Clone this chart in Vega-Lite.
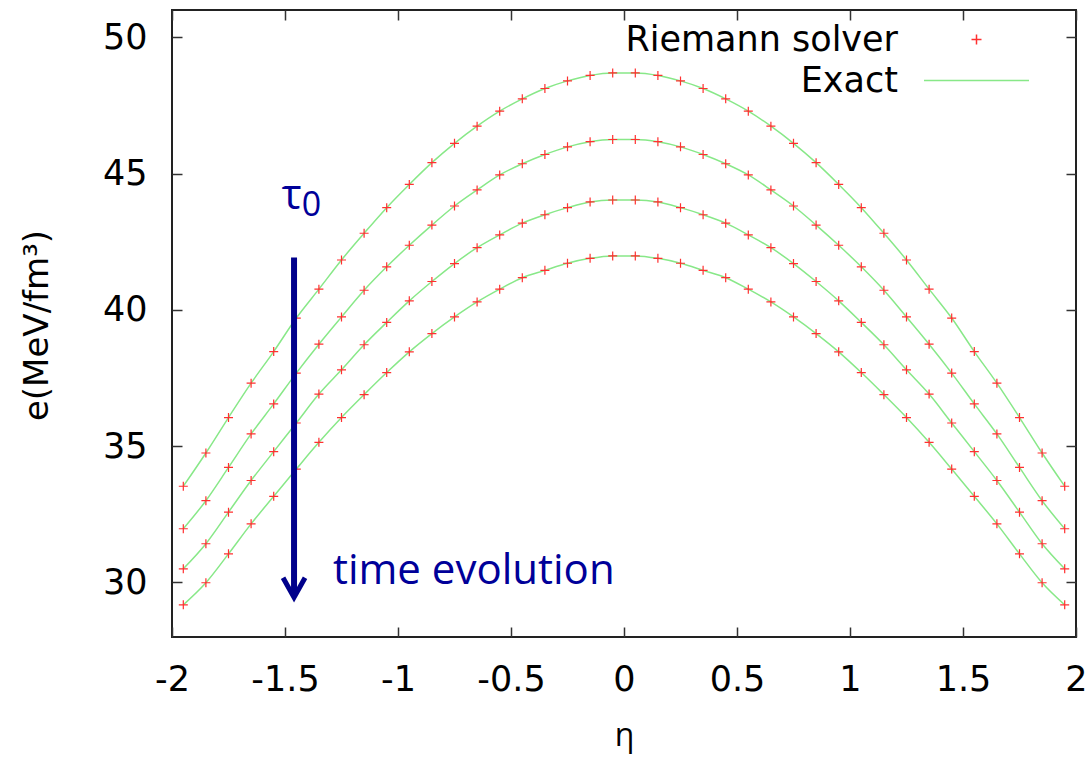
{
  "$schema": "https://vega.github.io/schema/vega-lite/v6.json",
  "width": 904,
  "height": 627,
  "autosize": {"type": "none"},
  "padding": {"left": 172, "top": 10, "right": 15, "bottom": 120},
  "background": "white",
  "config": {
    "view": {"stroke": "#222222", "strokeWidth": 2},
    "axis": {
      "domain": false, "grid": false, "ticks": true, "tickSize": -10,
      "tickColor": "#333333", "tickWidth": 1.5,
      "labelFont": "DejaVu Sans", "labelFontSize": 35, "labelColor": "#000000",
      "labelPadding": 35, "titleColor": "#000000"
    }
  },
  "datasets": {
    "d": [
      {"eta":-1.95,"e":33.53,"c":1},{"eta":-1.85,"e":34.75,"c":1},{"eta":-1.75,"e":36.05,"c":1},{"eta":-1.65,"e":37.31,"c":1},{"eta":-1.55,"e":38.47,"c":1},{"eta":-1.45,"e":39.7,"c":1},{"eta":-1.35,"e":40.76,"c":1},{"eta":-1.25,"e":41.83,"c":1},{"eta":-1.15,"e":42.81,"c":1},{"eta":-1.05,"e":43.75,"c":1},{"eta":-0.95,"e":44.6,"c":1},{"eta":-0.85,"e":45.4,"c":1},{"eta":-0.75,"e":46.11,"c":1},{"eta":-0.65,"e":46.74,"c":1},{"eta":-0.55,"e":47.29,"c":1},{"eta":-0.45,"e":47.74,"c":1},{"eta":-0.35,"e":48.12,"c":1},{"eta":-0.25,"e":48.4,"c":1},{"eta":-0.15,"e":48.6,"c":1},{"eta":-0.05,"e":48.69,"c":1},
      {"eta":0.05,"e":48.69,"c":1},{"eta":0.15,"e":48.6,"c":1},{"eta":0.25,"e":48.4,"c":1},{"eta":0.35,"e":48.12,"c":1},{"eta":0.45,"e":47.74,"c":1},{"eta":0.55,"e":47.29,"c":1},{"eta":0.65,"e":46.74,"c":1},{"eta":0.75,"e":46.11,"c":1},{"eta":0.85,"e":45.4,"c":1},{"eta":0.95,"e":44.6,"c":1},{"eta":1.05,"e":43.75,"c":1},{"eta":1.15,"e":42.81,"c":1},{"eta":1.25,"e":41.83,"c":1},{"eta":1.35,"e":40.76,"c":1},{"eta":1.45,"e":39.7,"c":1},{"eta":1.55,"e":38.47,"c":1},{"eta":1.65,"e":37.31,"c":1},{"eta":1.75,"e":36.05,"c":1},{"eta":1.85,"e":34.75,"c":1},{"eta":1.95,"e":33.53,"c":1},
      {"eta":-1.95,"e":31.97,"c":2},{"eta":-1.85,"e":33.0,"c":2},{"eta":-1.75,"e":34.22,"c":2},{"eta":-1.65,"e":35.45,"c":2},{"eta":-1.55,"e":36.55,"c":2},{"eta":-1.45,"e":37.68,"c":2},{"eta":-1.35,"e":38.74,"c":2},{"eta":-1.25,"e":39.74,"c":2},{"eta":-1.15,"e":40.72,"c":2},{"eta":-1.05,"e":41.58,"c":2},{"eta":-0.95,"e":42.37,"c":2},{"eta":-0.85,"e":43.11,"c":2},{"eta":-0.75,"e":43.81,"c":2},{"eta":-0.65,"e":44.4,"c":2},{"eta":-0.55,"e":44.95,"c":2},{"eta":-0.45,"e":45.36,"c":2},{"eta":-0.35,"e":45.7,"c":2},{"eta":-0.25,"e":45.98,"c":2},{"eta":-0.15,"e":46.17,"c":2},{"eta":-0.05,"e":46.25,"c":2},
      {"eta":0.05,"e":46.25,"c":2},{"eta":0.15,"e":46.17,"c":2},{"eta":0.25,"e":45.98,"c":2},{"eta":0.35,"e":45.7,"c":2},{"eta":0.45,"e":45.36,"c":2},{"eta":0.55,"e":44.95,"c":2},{"eta":0.65,"e":44.4,"c":2},{"eta":0.75,"e":43.81,"c":2},{"eta":0.85,"e":43.11,"c":2},{"eta":0.95,"e":42.37,"c":2},{"eta":1.05,"e":41.58,"c":2},{"eta":1.15,"e":40.72,"c":2},{"eta":1.25,"e":39.74,"c":2},{"eta":1.35,"e":38.74,"c":2},{"eta":1.45,"e":37.68,"c":2},{"eta":1.55,"e":36.55,"c":2},{"eta":1.65,"e":35.45,"c":2},{"eta":1.75,"e":34.22,"c":2},{"eta":1.85,"e":33.0,"c":2},{"eta":1.95,"e":31.97,"c":2},
      {"eta":-1.95,"e":30.5,"c":3},{"eta":-1.85,"e":31.42,"c":3},{"eta":-1.75,"e":32.58,"c":3},{"eta":-1.65,"e":33.74,"c":3},{"eta":-1.55,"e":34.8,"c":3},{"eta":-1.45,"e":35.85,"c":3},{"eta":-1.35,"e":36.91,"c":3},{"eta":-1.25,"e":37.8,"c":3},{"eta":-1.15,"e":38.72,"c":3},{"eta":-1.05,"e":39.54,"c":3},{"eta":-0.95,"e":40.33,"c":3},{"eta":-0.85,"e":41.04,"c":3},{"eta":-0.75,"e":41.7,"c":3},{"eta":-0.65,"e":42.28,"c":3},{"eta":-0.55,"e":42.75,"c":3},{"eta":-0.45,"e":43.18,"c":3},{"eta":-0.35,"e":43.49,"c":3},{"eta":-0.25,"e":43.75,"c":3},{"eta":-0.15,"e":43.96,"c":3},{"eta":-0.05,"e":44.03,"c":3},
      {"eta":0.05,"e":44.03,"c":3},{"eta":0.15,"e":43.96,"c":3},{"eta":0.25,"e":43.75,"c":3},{"eta":0.35,"e":43.49,"c":3},{"eta":0.45,"e":43.18,"c":3},{"eta":0.55,"e":42.75,"c":3},{"eta":0.65,"e":42.28,"c":3},{"eta":0.75,"e":41.7,"c":3},{"eta":0.85,"e":41.04,"c":3},{"eta":0.95,"e":40.33,"c":3},{"eta":1.05,"e":39.54,"c":3},{"eta":1.15,"e":38.72,"c":3},{"eta":1.25,"e":37.8,"c":3},{"eta":1.35,"e":36.91,"c":3},{"eta":1.45,"e":35.85,"c":3},{"eta":1.55,"e":34.8,"c":3},{"eta":1.65,"e":33.74,"c":3},{"eta":1.75,"e":32.58,"c":3},{"eta":1.85,"e":31.42,"c":3},{"eta":1.95,"e":30.5,"c":3},
      {"eta":-1.95,"e":29.18,"c":4},{"eta":-1.85,"e":29.99,"c":4},{"eta":-1.75,"e":31.05,"c":4},{"eta":-1.65,"e":32.15,"c":4},{"eta":-1.55,"e":33.16,"c":4},{"eta":-1.45,"e":34.16,"c":4},{"eta":-1.35,"e":35.14,"c":4},{"eta":-1.25,"e":36.05,"c":4},{"eta":-1.15,"e":36.89,"c":4},{"eta":-1.05,"e":37.7,"c":4},{"eta":-0.95,"e":38.46,"c":4},{"eta":-0.85,"e":39.13,"c":4},{"eta":-0.75,"e":39.74,"c":4},{"eta":-0.65,"e":40.29,"c":4},{"eta":-0.55,"e":40.76,"c":4},{"eta":-0.45,"e":41.18,"c":4},{"eta":-0.35,"e":41.45,"c":4},{"eta":-0.25,"e":41.71,"c":4},{"eta":-0.15,"e":41.89,"c":4},{"eta":-0.05,"e":41.98,"c":4},
      {"eta":0.05,"e":41.98,"c":4},{"eta":0.15,"e":41.89,"c":4},{"eta":0.25,"e":41.71,"c":4},{"eta":0.35,"e":41.45,"c":4},{"eta":0.45,"e":41.18,"c":4},{"eta":0.55,"e":40.76,"c":4},{"eta":0.65,"e":40.29,"c":4},{"eta":0.75,"e":39.74,"c":4},{"eta":0.85,"e":39.13,"c":4},{"eta":0.95,"e":38.46,"c":4},{"eta":1.05,"e":37.7,"c":4},{"eta":1.15,"e":36.89,"c":4},{"eta":1.25,"e":36.05,"c":4},{"eta":1.35,"e":35.14,"c":4},{"eta":1.45,"e":34.16,"c":4},{"eta":1.55,"e":33.16,"c":4},{"eta":1.65,"e":32.15,"c":4},{"eta":1.75,"e":31.05,"c":4},{"eta":1.85,"e":29.99,"c":4},{"eta":1.95,"e":29.18,"c":4}
    ]
  },
  "data": {"name": "d"},
  "layer": [
    {
      "mark": {"type": "line", "interpolate": "monotone", "strokeWidth": 1.5},
      "encoding": {
        "x": {
          "field": "eta", "type": "quantitative",
          "scale": {"domain": [-2, 2], "nice": false, "zero": false},
          "axis": {
            "values": [-2, -1.5, -1, -0.5, 0, 0.5, 1, 1.5, 2],
            "labelExpr": "'' + datum.value", "labelFlush": false, "labelOverlap": false,
            "title": "η", "titleFont": "Open Sans", "titleFontSize": 32, "titleFontWeight": "normal",
            "titleX": 452, "titleY": 108, "titleBaseline": "alphabetic", "titleAlign": "center"
          }
        },
        "y": {
          "field": "e", "type": "quantitative",
          "scale": {"domain": [28, 51], "nice": false, "zero": false},
          "axis": {
            "values": [30, 35, 40, 45, 50],
            "title": "e(MeV/fm³)", "titleFont": "DejaVu Sans", "titleFontSize": 34, "titleFontWeight": "normal",
            "titleX": -135, "titleY": 315, "titleAngle": -90, "titleBaseline": "middle", "titleAlign": "center"
          }
        },
        "detail": {"field": "c"},
        "color": {
          "datum": "Exact",
          "scale": {"domain": ["Riemann solver", "Exact"], "range": ["#ff3030", "#88e888"]},
          "legend": {
            "orient": "none", "legendX": 787, "legendY": 12, "title": null, "columns": 1,
            "rowPadding": 5, "padding": 0,
            "labelFont": "DejaVu Sans", "labelFontSize": 35, "labelColor": "#000000",
            "labelAlign": "right", "labelBaseline": "middle", "labelOffset": -96, "labelLimit": 1000,
            "symbolStrokeWidth": 1.5,
            "encode": {
              "symbols": {
                "update": {
                  "shape": {"signal": "datum.value === 'Exact' ? 'stroke' : 'M-1,0L1,0M0,-1L0,1'"},
                  "size": {"signal": "datum.value === 'Exact' ? 11025 : 100"},
                  "fill": {"value": "transparent"},
                  "strokeWidth": {"value": 1.5}
                }
              }
            }
          }
        }
      }
    },
    {
      "mark": {"type": "point", "filled": false, "shape": "M-1,0L1,0M0,-1L0,1", "size": 81, "strokeWidth": 1.2, "opacity": 1},
      "encoding": {
        "x": {"field": "eta", "type": "quantitative", "axis": {"orient": "top", "labels": false, "title": null, "values": [-2, -1.5, -1, -0.5, 0, 0.5, 1, 1.5, 2]}},
        "y": {"field": "e", "type": "quantitative", "axis": {"orient": "right", "labels": false, "title": null, "values": [30, 35, 40, 45, 50]}},
        "color": {"datum": "Riemann solver"}
      }
    },
    {
      "data": {"values": [{}]},
      "mark": {"type": "rule", "color": "#00008b", "strokeWidth": 6},
      "encoding": {
        "x": {"datum": -1.46, "type": "quantitative", "axis": null},
        "y": {"datum": 41.92, "type": "quantitative", "axis": null},
        "y2": {"datum": 29.6}
      }
    },
    {
      "data": {"values": [{}]},
      "mark": {"type": "point", "shape": "M-1,-1.8L0,0L1,-1.8", "size": 484, "filled": false, "color": "#00008b", "strokeWidth": 5, "opacity": 1, "strokeJoin": "miter"},
      "encoding": {
        "x": {"datum": -1.46, "type": "quantitative", "axis": null},
        "y": {"datum": 29.45, "type": "quantitative", "axis": null}
      }
    },
    {
      "data": {"values": [{}]},
      "mark": {"type": "text", "text": "time evolution", "font": "Open Sans", "fontSize": 42, "color": "#000099", "align": "left", "baseline": "alphabetic"},
      "encoding": {
        "x": {"datum": -1.288, "type": "quantitative", "axis": null},
        "y": {"datum": 29.96, "type": "quantitative", "axis": null}
      }
    },
    {
      "data": {"values": [{}]},
      "mark": {"type": "text", "text": "τ", "font": "Open Sans", "fontSize": 42, "color": "#000099", "align": "center", "baseline": "alphabetic"},
      "encoding": {
        "x": {"datum": -1.47, "type": "quantitative", "axis": null},
        "y": {"datum": 43.7, "type": "quantitative", "axis": null}
      }
    },
    {
      "data": {"values": [{}]},
      "mark": {"type": "text", "text": "0", "font": "Open Sans", "fontSize": 34, "color": "#000099", "align": "center", "baseline": "alphabetic"},
      "encoding": {
        "x": {"datum": -1.383, "type": "quantitative", "axis": null},
        "y": {"datum": 43.44, "type": "quantitative", "axis": null}
      }
    }
  ],
  "resolve": {"axis": {"x": "independent", "y": "independent"}}
}
